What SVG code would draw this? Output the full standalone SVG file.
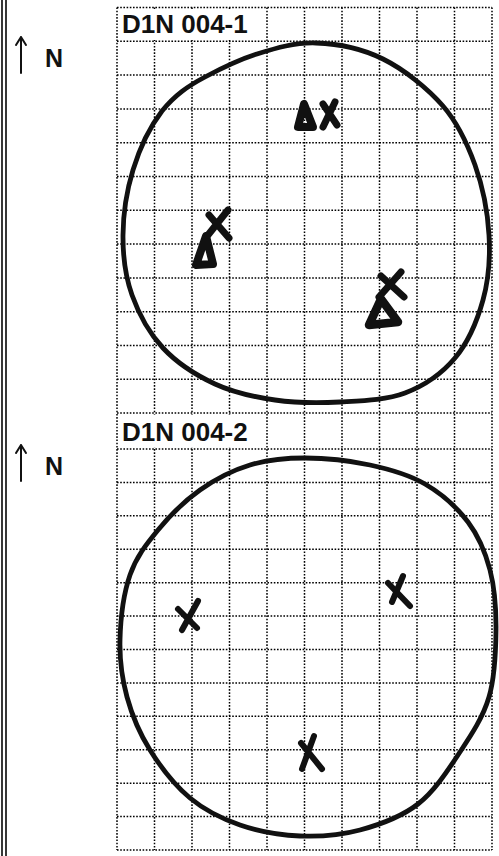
<svg xmlns="http://www.w3.org/2000/svg" width="499" height="856" viewBox="0 0 499 856">
<style>
.g{stroke:#000;stroke-width:1.5;stroke-dasharray:1.6 1.6;fill:none}
.loop{fill:none;stroke:#111;stroke-width:4.8;stroke-linecap:round;stroke-linejoin:round}
.mk{fill:none;stroke:#111;stroke-width:7;stroke-linecap:round;stroke-linejoin:round}
.lbl{font-family:"Liberation Sans",Arial,sans-serif;font-weight:bold;font-size:26px;fill:#111}
.n{font-family:"Liberation Sans",Arial,sans-serif;font-weight:bold;font-size:25px;fill:#111}
.arr{fill:none;stroke:#111;stroke-width:2;stroke-linecap:round;stroke-linejoin:round}
.bd{stroke:#222;stroke-width:1.8}
</style>
<rect width="499" height="856" fill="#fff"/>
<g id="border">
<line class="bd" x1="2" y1="0" x2="2" y2="856"/>
<line class="bd" x1="6" y1="0" x2="6" y2="856"/>
</g>
<g id="grid">
<line class="g" x1="117" y1="7.5" x2="117" y2="850"/>
<line class="g" x1="154.5" y1="7.5" x2="154.5" y2="850"/>
<line class="g" x1="192" y1="7.5" x2="192" y2="850"/>
<line class="g" x1="229.5" y1="7.5" x2="229.5" y2="850"/>
<line class="g" x1="267" y1="7.5" x2="267" y2="850"/>
<line class="g" x1="304.5" y1="7.5" x2="304.5" y2="850"/>
<line class="g" x1="342" y1="7.5" x2="342" y2="850"/>
<line class="g" x1="379.5" y1="7.5" x2="379.5" y2="850"/>
<line class="g" x1="417" y1="7.5" x2="417" y2="850"/>
<line class="g" x1="454.5" y1="7.5" x2="454.5" y2="850"/>
<line class="g" x1="492" y1="7.5" x2="492" y2="850"/>
<line class="g" x1="117" y1="7.5" x2="492" y2="7.5"/>
<line class="g" x1="117" y1="41.3" x2="492" y2="41.3"/>
<line class="g" x1="117" y1="75.1" x2="492" y2="75.1"/>
<line class="g" x1="117" y1="108.9" x2="492" y2="108.9"/>
<line class="g" x1="117" y1="142.7" x2="492" y2="142.7"/>
<line class="g" x1="117" y1="176.5" x2="492" y2="176.5"/>
<line class="g" x1="117" y1="210.3" x2="492" y2="210.3"/>
<line class="g" x1="117" y1="244.1" x2="492" y2="244.1"/>
<line class="g" x1="117" y1="277.9" x2="492" y2="277.9"/>
<line class="g" x1="117" y1="311.7" x2="492" y2="311.7"/>
<line class="g" x1="117" y1="345.5" x2="492" y2="345.5"/>
<line class="g" x1="117" y1="379.3" x2="492" y2="379.3"/>
<line class="g" x1="117" y1="413.1" x2="492" y2="413.1"/>
<line class="g" x1="117" y1="449" x2="492" y2="449"/>
<line class="g" x1="117" y1="482.4" x2="492" y2="482.4"/>
<line class="g" x1="117" y1="515.8" x2="492" y2="515.8"/>
<line class="g" x1="117" y1="549.3" x2="492" y2="549.3"/>
<line class="g" x1="117" y1="582.7" x2="492" y2="582.7"/>
<line class="g" x1="117" y1="616.1" x2="492" y2="616.1"/>
<line class="g" x1="117" y1="649.5" x2="492" y2="649.5"/>
<line class="g" x1="117" y1="682.9" x2="492" y2="682.9"/>
<line class="g" x1="117" y1="716.3" x2="492" y2="716.3"/>
<line class="g" x1="117" y1="749.8" x2="492" y2="749.8"/>
<line class="g" x1="117" y1="783.2" x2="492" y2="783.2"/>
<line class="g" x1="117" y1="816.6" x2="492" y2="816.6"/>
<line class="g" x1="117" y1="850" x2="492" y2="850"/>
<rect x="118.5" y="9" width="143" height="31" fill="#fff"/>
<rect x="118.5" y="414.6" width="143" height="33" fill="#fff"/>
</g>
<g id="panel1">
<text class="lbl" x="122" y="33">D1N 004-1</text>
<path class="arr" d="M21,73 V37 M16,45 L21,37 L26,45"/>
<text class="n" x="45" y="67">N</text>
<path class="loop" d="M316,43 C337.3,43.7 361.8,48.5 383,59 C404.2,69.5 427.7,88.3 443,106 C458.3,123.7 467.3,143.5 475,165 C482.7,186.5 487.7,212.5 489,235 C490.3,257.5 488.7,279.5 483,300 C477.3,320.5 468,342.5 455,358 C442,373.5 424.2,385.7 405,393 C385.8,400.3 361.7,400.8 340,402 C318.3,403.2 295.8,403 275,400 C254.2,397 233.7,392.7 215,384 C196.3,375.3 176.8,362.8 163,348 C149.2,333.2 138.7,313.8 132,295 C125.3,276.2 122.8,255.8 123,235 C123.2,214.2 126.8,190.3 133,170 C139.2,149.7 149,128 162,111 C175,95 188,86 205,77 C222,68 238,60 257,54 C276,48 295,42.3 316,43 Z"/>
</g>
<g id="marker-1a">
<path class="mk" d="M304,104 L298,127 L313,127 Z" style="stroke-width:8"/>
<path class="mk" d="M323,104 L337,125 M335,102 L323,127"/>
</g>
<g id="marker-1b">
<path class="mk" d="M206,236 L196,265 L213,264 Z" style="stroke-width:8"/>
<path class="mk" d="M209,215 L229,238 M228,210 L208,235"/>
</g>
<g id="marker-1c">
<path class="mk" d="M381,299 L369,325 L398,322 Z" style="stroke-width:8.5"/>
<path class="mk" d="M381,276 L404,297 M401,272 L379,297"/>
</g>
<g id="panel2">
<text class="lbl" x="122" y="441">D1N 004-2</text>
<path class="arr" d="M21,481 V445 M16,453 L21,445 L26,453"/>
<text class="n" x="45" y="475">N</text>
<path class="loop" d="M305,458 C325,458 350,460.7 370,465 C390,469.3 408.7,474.5 425,484 C441.3,493.5 457.2,507.7 468,522 C478.8,536.3 485.3,552 490,570 C494.7,588 496.2,608.8 496,630 C495.8,651.2 495,676.7 489,697 C483,717.3 471.8,734.2 460,752 C448.2,769.8 434.7,791 418,804 C401.3,817 379.7,824.7 360,830 C340.3,835.3 320,836.8 300,836 C280,835.2 258.3,831.3 240,825 C221.7,818.7 205,810.5 190,798 C175,785.5 160.5,766.8 150,750 C139.5,733.2 132,715.3 127,697 C122,678.7 119.5,660.3 120,640 C120.5,619.7 123.7,593.3 130,575 C136.3,556.7 146.3,544.2 158,530 C169.7,515.8 184.7,500.8 200,490 C215.3,479.2 232.5,470.3 250,465 C267.5,459.7 285,458 305,458 Z"/>
</g>
<g id="marker-2a">
<path class="mk" d="M178,609 L197,628 M198,601 L182,630" style="stroke-width:6"/>
</g>
<g id="marker-2b">
<path class="mk" d="M388,583 L410,606 M403,576 L392,602" style="stroke-width:6"/>
</g>
<g id="marker-2c">
<path class="mk" d="M301,743 L322,769 M314,736 L302,769" style="stroke-width:6"/>
</g>
</svg>
